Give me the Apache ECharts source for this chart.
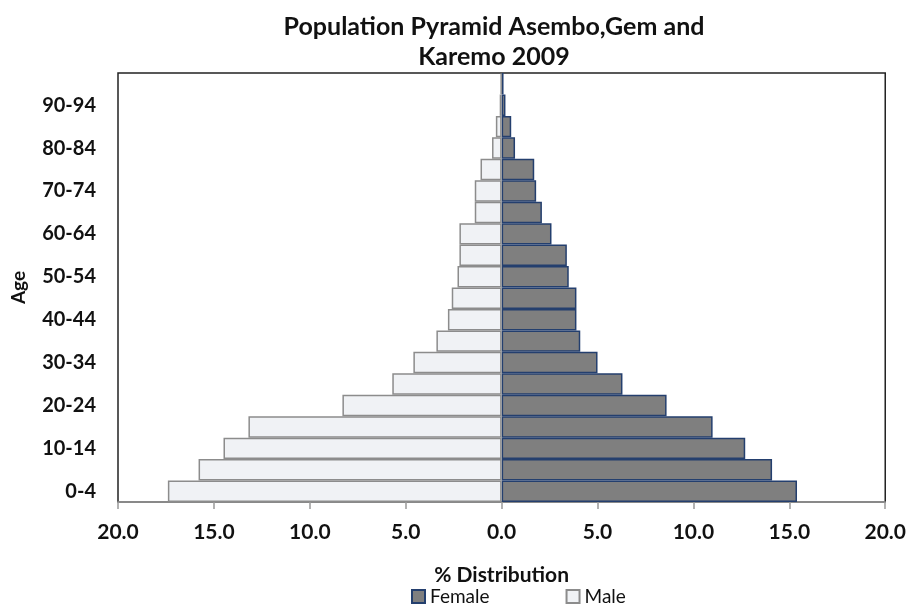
<!DOCTYPE html>
<html>
<head>
<meta charset="utf-8">
<script src="https://cdn.jsdelivr.net/npm/echarts@6/dist/echarts.min.js"></script>
<style>
html,body{margin:0;padding:0;background:#fff;}
#c{width:909px;height:611px;}
</style>
</head>
<body>
<div id="c"></div>
<script>
var ageGroups = ['0-4','5-9','10-14','15-19','20-24','25-29','30-34','35-39','40-44','45-49','50-54','55-59','60-64','65-69','70-74','75-79','80-84','85-89','90-94','95+'];
var femaleValues = [15.4, 14.1, 12.7, 11.0, 8.6, 6.3, 5.0, 4.1, 3.9, 3.9, 3.5, 3.4, 2.6, 2.1, 1.8, 1.7, 0.7, 0.5, 0.2, 0.1];
var maleValues = [17.4, 15.8, 14.5, 13.2, 8.3, 5.7, 4.6, 3.4, 2.8, 2.6, 2.3, 2.2, 2.2, 1.4, 1.4, 1.1, 0.5, 0.3, 0.1, 0.05];
var xTickValues = [-20, -15, -10, -5, 0, 5, 10, 15, 20];

var font = 'Lato, "Open Sans", sans-serif';
var chart = echarts.init(document.getElementById('c'));
chart.setOption({
  animation: false,
  backgroundColor: '#ffffff',
  title: {
    text: 'Population Pyramid Asembo,Gem and\nKaremo 2009',
    left: 489, top: 7, textAlign: 'center',
    textStyle: {fontFamily: font, fontSize: 25, fontWeight: 'bold', color: '#111', lineHeight: 30}
  },
  legend: {
    data: ['Female', 'Male'],
    bottom: 0, left: 406,
    itemWidth: 13, itemHeight: 13, itemGap: 76,
    icon: 'rect',
    textStyle: {fontFamily: font, fontSize: 19, color: '#111', padding: [0,0,0,0]}
  },
  grid: {
    left: 118, right: 23, top: 73, bottom: 109,
    show: true, borderColor: '#222', borderWidth: 1.5, backgroundColor: '#fff'
  },
  xAxis: {
    type: 'value', min: -20, max: 20, interval: 5,
    name: '% Distribution', nameLocation: 'middle', nameGap: 63,
    nameTextStyle: {fontFamily: font, fontSize: 21, fontWeight: 'bold', color: '#111'},
    axisLine: {show: true, lineStyle: {color: '#999', width: 1.5}},
    axisTick: {show: true, length: 7, lineStyle: {color: '#999', width: 1.5}},
    splitLine: {show: false},
    axisLabel: {
      margin: 20, fontFamily: font, fontSize: 21, fontWeight: 'bold', color: '#111',
      formatter: function (v) { return Math.abs(v).toFixed(1); }
    }
  },
  yAxis: {
    type: 'category', data: ageGroups,
    name: 'Age', nameLocation: 'middle', nameGap: 90, nameRotate: 90,
    nameTextStyle: {fontFamily: font, fontSize: 19, fontWeight: 'bold', color: '#111'},
    axisLine: {show: false},
    axisTick: {show: false},
    axisLabel: {interval: 1, margin: 22, fontFamily: font, fontSize: 20, fontWeight: 'bold', color: '#111'}
  },
  series: [
    {
      name: 'Female', type: 'bar', data: femaleValues,
      barGap: '-100%', barCategoryGap: '0%',
      itemStyle: {color: '#7f7f7f', borderColor: '#243f6e', borderWidth: 1.5}
    },
    {
      name: 'Male', type: 'bar',
      data: maleValues.map(function (v) { return -v; }),
      barGap: '-100%', barCategoryGap: '0%',
      itemStyle: {color: '#f0f2f5', borderColor: '#8c8c8c', borderWidth: 1.5}
    }
  ]
});
</script>
</body>
</html>
